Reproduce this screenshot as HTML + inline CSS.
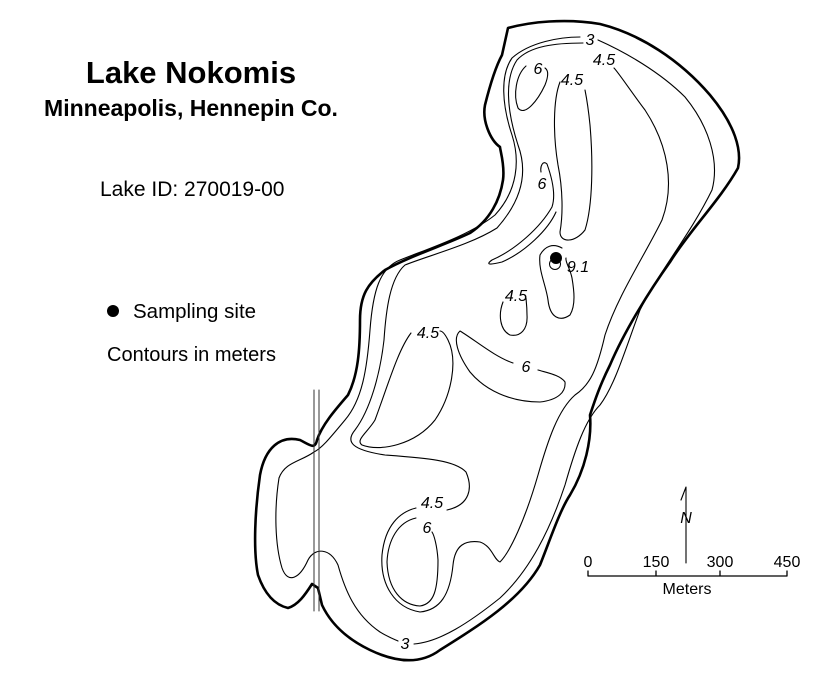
<!DOCTYPE html>
<html><head><style>
html,body{margin:0;padding:0;background:#fff;}
svg{display:block;}
</style></head><body>
<svg width="835" height="691" viewBox="0 0 835 691" xmlns="http://www.w3.org/2000/svg" font-family="Liberation Sans, Arial, sans-serif">
<rect width="835" height="691" fill="#fff"/>
<text x="191" y="83" font-size="31" font-weight="bold" text-anchor="middle">Lake Nokomis</text>
<text x="191" y="116" font-size="23" font-weight="bold" text-anchor="middle">Minneapolis, Hennepin Co.</text>
<text x="100" y="196" font-size="21">Lake ID: 270019-00</text>
<circle cx="113" cy="311" r="6" fill="#000"/>
<text x="133" y="318" font-size="20.5">Sampling site</text>
<text x="107" y="361" font-size="20">Contours in meters</text>

<g fill="none" stroke="#000" stroke-linejoin="round" stroke-linecap="round">
<path stroke-width="2.6" d="M508,28 C530,22 565,18 600,24 C640,34 680,60 710,95 C735,125 742,150 738,168 C720,200 690,230 670,262 C650,290 625,330 610,365 C600,385 595,400 590,415 C592,440 585,470 570,495 C560,510 550,540 540,565 C520,600 480,625 440,650 C420,665 395,662 370,650 C345,638 330,622 322,605 L318,588 L312,584 C305,595 298,605 288,608 C275,605 265,595 258,575 C253,550 255,510 260,475 C265,448 280,435 300,440 C310,445 315,450 317,440 C322,425 335,410 348,395 C358,375 360,350 360,320 C360,295 368,283 385,270 C410,256 445,245 470,233 C490,220 500,200 503,180 C505,165 500,150 500,147 C490,140 482,120 485,105 C490,85 495,68 502,55 Z"/>
<path stroke-width="1.1" d="M580,37 C560,37 530,42 512,58 C500,75 502,105 512,135 C520,160 518,190 495,215 C470,235 430,248 400,260 C380,268 373,290 370,330 C367,370 362,400 345,420 C330,438 322,448 314,452 C300,462 285,462 279,478 C274,510 275,545 282,568 C288,585 300,578 308,560 C315,547 330,548 338,565 C345,590 355,615 380,632 C390,638 396,640 398,641 M414,644 C440,642 470,622 500,598 C530,570 550,530 565,485 C575,450 585,420 600,405 C615,385 625,350 640,310 C660,270 690,235 712,190 C720,160 708,125 685,97 C660,72 625,52 598,40"/>
<path stroke-width="1.1" d="M583,43 C555,43 530,46 517,60 C505,78 506,108 518,145 C528,172 522,200 497,228 C470,245 430,255 405,265 C390,278 386,310 384,340 C380,375 370,410 355,430 C345,442 352,450 385,455 C425,458 455,460 466,472 C473,488 470,505 447,510 M416,508 C400,512 385,525 382,555 C380,585 395,608 420,612 C440,610 450,595 453,565 C455,545 465,540 480,542 C492,546 494,560 500,562 C510,552 525,520 538,475 C548,440 558,410 575,395 C590,385 597,370 605,335 C618,295 645,255 662,220 C675,185 668,145 645,110 C630,90 618,72 614,68"/>
<path stroke-width="1.1" d="M411,333 C398,350 388,385 375,420 C368,432 355,440 362,445 C380,452 415,445 435,420 C452,395 458,360 448,340 C445,334 442,331 440,331"/>
<path stroke-width="1.1" d="M416,518 C398,522 388,540 387,562 C388,590 402,605 420,606 C434,604 438,590 438,560 C437,545 434,535 432,532"/>
<path stroke-width="1.1" d="M526,66 C516,75 513,95 518,108 C525,117 538,100 545,85 C549,75 548,70 545,68"/>
<path stroke-width="1.1" d="M560,82 C553,100 553,135 558,165 C563,190 563,215 560,232 C560,243 575,243 585,230 C593,205 593,160 590,125 C588,105 586,95 585,90"/>
<path stroke-width="1.1" d="M541,172 C540,166 543,160 547,164 C552,178 556,195 552,207 C540,228 515,250 492,260 C485,265 490,265 502,262 C525,252 548,230 556,212"/>
<path stroke-width="1.1" d="M562,248 C553,243 545,246 540,255 C538,270 546,285 548,300 C550,318 560,322 570,315 C576,305 574,290 572,278 C570,268 565,262 566,258"/>
<circle cx="555" cy="264" r="5.5" stroke-width="1"/>
<path stroke-width="1.1" d="M503,302 C498,315 500,330 510,335 C520,337 528,330 527,315 C527,305 526,300 526,298"/>
<path stroke-width="1.1" d="M513,363 C495,357 475,340 460,331 C452,338 458,355 470,372 C485,390 510,402 540,402 C558,400 566,392 565,382 C560,375 548,373 538,370"/>
<path stroke-width="1" stroke="#333" d="M314,390 L314,611 M319,390 L319,611"/>
<path stroke-width="1.3" d="M588,576 L787,576 M588,571 L588,576 M656,571 L656,576 M720,571 L720,576 M787,571 L787,576"/>
<path stroke-width="1.1" d="M686,563 L686,487 L681,500"/>
</g>
<g font-size="16" font-style="italic" text-anchor="middle" fill="#000">
<text x="590" y="45">3</text>
<text x="604" y="65">4.5</text>
<text x="538" y="74">6</text>
<text x="572" y="85">4.5</text>
<text x="542" y="189">6</text>
<text x="578" y="272">9.1</text>
<text x="516" y="301">4.5</text>
<text x="428" y="338">4.5</text>
<text x="526" y="372">6</text>
<text x="432" y="508">4.5</text>
<text x="427" y="533">6</text>
<text x="405" y="649">3</text>
<text x="686" y="523">N</text>
</g>
<circle cx="556" cy="258" r="6" fill="#000"/>
<g font-size="16" text-anchor="middle" fill="#000">
<text x="588" y="567">0</text>
<text x="656" y="567">150</text>
<text x="720" y="567">300</text>
<text x="787" y="567">450</text>
<text x="687" y="594">Meters</text>
</g>
</svg>
</body></html>
